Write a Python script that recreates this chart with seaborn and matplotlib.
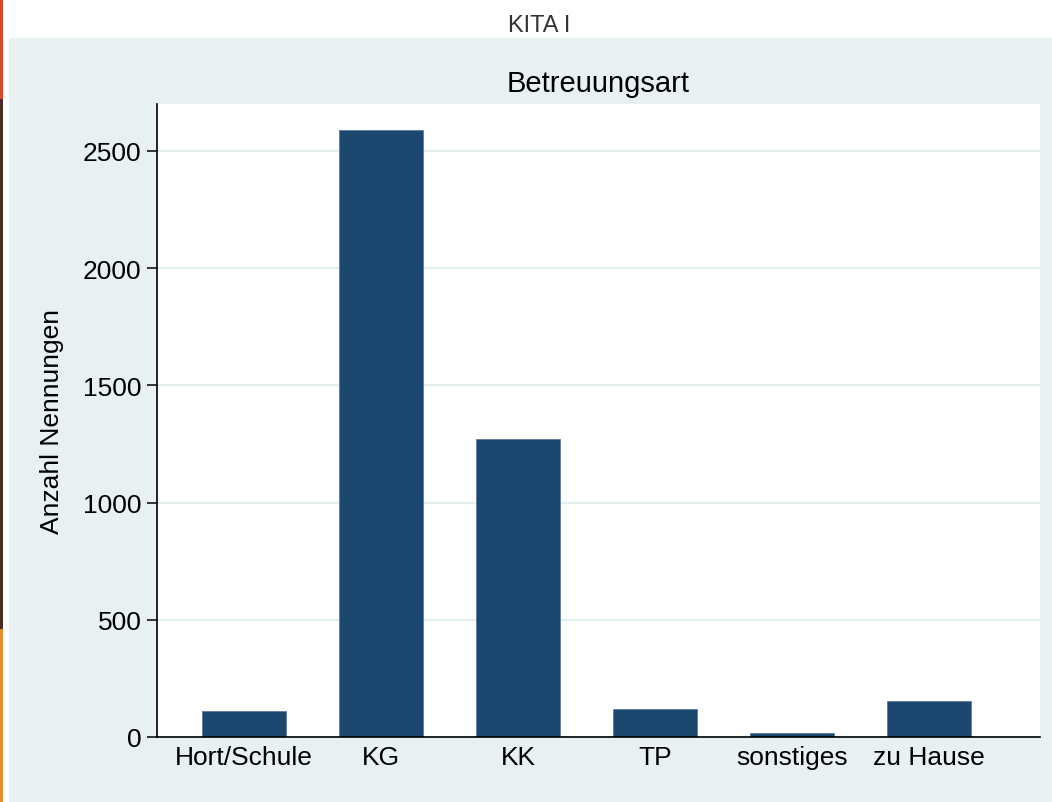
import matplotlib
matplotlib.use("Agg")
import matplotlib.pyplot as plt
import seaborn as sns
import pandas as pd
from matplotlib.patches import Rectangle

# Daten
kategorien = ["Hort/Schule", "KG", "KK", "TP", "sonstiges", "zu Hause"]
nennungen = [112, 2590, 1270, 120, 16, 154]
y_ticks = [0, 500, 1000, 1500, 2000, 2500]

df = pd.DataFrame({"Betreuungsart": kategorien, "Anzahl": nennungen})

sns.set_theme(style="white")
plt.rcParams["font.family"] = ["Liberation Sans", "DejaVu Sans"]
plt.rcParams["text.color"] = "black"
plt.rcParams["axes.labelcolor"] = "black"
plt.rcParams["xtick.color"] = "black"
plt.rcParams["ytick.color"] = "black"

bar_col = "#1c476e"
bg_col = "#e8f0f2"
grid_col = "#e4edf0"

fig = plt.figure(figsize=(10.52, 8.03), dpi=100)
fig.patch.set_facecolor("white")

# Hintergrund (Stata-Stil)
fig.patches.append(Rectangle((9 / 1052, 0), 1 - 9 / 1052, (803 - 39) / 803,
                             transform=fig.transFigure, facecolor=bg_col,
                             edgecolor="none", zorder=-10))
# schmale farbige Streifen am linken Rand
for y0, y1, c in [(0, 100, "#d9482b"), (100, 630, "#4a2b26"), (630, 803, "#e98a2f")]:
    fig.patches.append(Rectangle((0, (803 - y1) / 803), 3 / 1052, (y1 - y0) / 803,
                                 transform=fig.transFigure, facecolor=c,
                                 edgecolor="none", zorder=-10))

ax = fig.add_axes([157 / 1052, 65 / 803, (1040 - 157) / 1052, (738 - 105) / 803])
ax.set_facecolor("white")

sns.barplot(data=df, x="Betreuungsart", y="Anzahl", color=bar_col,
            saturation=1, width=0.62, edgecolor="#5a7c9c", linewidth=0.6,
            ax=ax, zorder=3)

ax.set_xlim(-0.635, 5.81)
ax.set_ylim(0, 2700)
ax.set_yticks(y_ticks)
ax.set_yticklabels([str(t) for t in y_ticks])

ax.yaxis.grid(True, color=grid_col, linewidth=1.6, zorder=0)
ax.xaxis.grid(False)
ax.set_axisbelow(True)

for s in ["top", "right"]:
    ax.spines[s].set_visible(False)
for s in ["left", "bottom"]:
    ax.spines[s].set_color("black")
    ax.spines[s].set_linewidth(1.2)
    ax.spines[s].set_zorder(5)

ax.tick_params(axis="y", which="major", direction="out", length=7, width=1.1,
               color="black", labelsize=19, pad=4, left=True)
ax.tick_params(axis="x", which="major", length=0, labelsize=19, pad=6)

ax.set_xlabel("")
ax.set_ylabel("Anzahl Nennungen", fontsize=19, labelpad=14)
ax.set_title("Betreuungsart", fontsize=21, pad=9)

fig.text(539 / 1052, 1 - 32 / 803, "KITA I", ha="center", va="baseline",
         fontsize=17, color="#333333")

fig.savefig("out.png", dpi=100, facecolor=fig.get_facecolor())
